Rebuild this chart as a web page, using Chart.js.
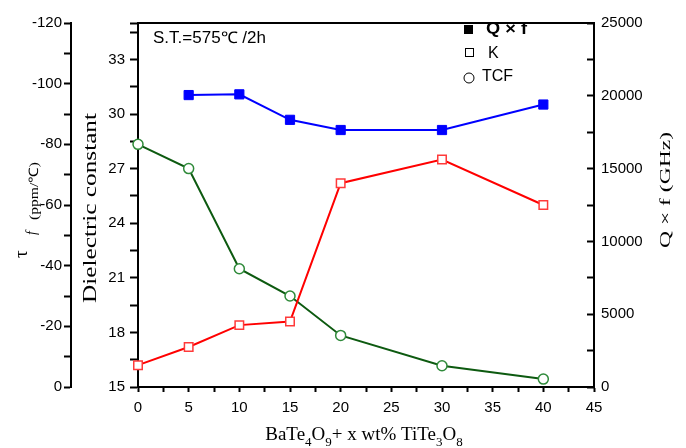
<!DOCTYPE html>
<html>
<head>
<meta charset="utf-8">
<script src="https://cdn.jsdelivr.net/npm/chart.js@4"></script>
<style>
  html, body { margin: 0; padding: 0; background: #fff; }
  canvas { display: block; }
</style>
</head>
<body>
<canvas id="chart" width="686" height="448"></canvas>
<script>
// x = wt% TiTe3O8 added to BaTe4O9
const xContent = [0, 5, 10, 15, 20, 30, 40];
const kValues = [16.2, 17.2, 18.4, 18.6, 26.2, 27.5, 25.0];
const tcfValues = [-80, -72, -39, -30, -17, -7, -2.6];
const qfContent = [5, 10, 15, 20, 30, 40];
const qfValues = [20050, 20100, 18350, 17650, 17650, 19400];

const sans = "'Liberation Sans', Arial, sans-serif";
const serif = "'Liberation Serif', 'Times New Roman', serif";

const toPoints = (xs, ys) => xs.map((x, i) => ({ x: x, y: ys[i] }));

// draw text squeezed/stretched to a given length (rotated or not)
function stretchText(ctx, text, x, y, font, len, rotated, align) {
  ctx.save();
  ctx.translate(x, y);
  if (rotated) ctx.rotate(-Math.PI / 2);
  ctx.font = font;
  const w = ctx.measureText(text).width;
  ctx.scale(len / w, 1);
  ctx.textAlign = align || "left";
  ctx.textBaseline = "alphabetic";
  ctx.fillText(text, 0, 0);
  ctx.restore();
}

const decorations = {
  id: "decorations",
  afterDraw(chart) {
    const ctx = chart.ctx;
    const a = chart.chartArea;
    ctx.save();
    ctx.fillStyle = "#000";
    ctx.strokeStyle = "#000";

    // top frame line
    ctx.lineWidth = 2;
    ctx.beginPath();
    ctx.moveTo(a.left - 1, a.top);
    ctx.lineTo(a.right + 1, a.top);
    ctx.stroke();

    // axis titles
    stretchText(ctx, "Dielectric constant", 96, 208, "18px " + serif, 190, true, "center");
    stretchText(ctx, "Q × f (GHz)", 670, 190, "15px " + serif, 116, true, "center");

    // tau f (ppm/℃)
    ctx.save();
    ctx.translate(27, 258);
    ctx.rotate(-Math.PI / 2);
    ctx.textBaseline = "alphabetic";
    ctx.font = "19px " + serif;
    ctx.fillText("τ", 0, 0);
    ctx.font = "italic 14px " + serif;
    ctx.fillText("f", 23, 9);
    ctx.restore();
    ctx.save();
    ctx.translate(38, 220);
    ctx.rotate(-Math.PI / 2);
    ctx.font = "13px " + serif;
    const pw = ctx.measureText("(ppm/℃)").width;
    ctx.scale(58 / pw, 1);
    ctx.fillText("(ppm/℃)", 0, 0);
    ctx.restore();

    // x title with subscripts
    const parts = [["BaTe", 0], ["4", 1], ["O", 0], ["9", 1], ["+ x wt% TiTe", 0], ["3", 1], ["O", 0], ["8", 1]];
    const mainFont = "19px " + serif, subFont = "13px " + serif;
    let total = 0;
    parts.forEach(p => { ctx.font = p[1] ? subFont : mainFont; total += ctx.measureText(p[0]).width; });
    let xx = 364 - total / 2;
    ctx.textAlign = "left";
    ctx.textBaseline = "alphabetic";
    parts.forEach(p => {
      ctx.font = p[1] ? subFont : mainFont;
      ctx.fillText(p[0], xx, p[1] ? 446 : 440);
      xx += ctx.measureText(p[0]).width;
    });

    // annotation
    stretchText(ctx, "S.T.=575℃ /2h", 153, 43, "16px " + sans, 113, false);

    // legend
    ctx.fillRect(464, 25, 9, 9);
    stretchText(ctx, "Q × f", 486, 34, "bold 16px " + sans, 41, false);
    ctx.lineWidth = 1;
    ctx.strokeRect(465.5, 48.5, 8, 8);
    ctx.font = "16px " + sans;
    ctx.fillText("K", 488, 58);
    ctx.beginPath();
    ctx.arc(469, 78, 5, 0, Math.PI * 2);
    ctx.stroke();
    ctx.fillText("TCF", 482, 81);

    ctx.restore();
  }
};

const tickFont = { family: sans, size: 15 };
const axisGrid = (len) => ({ drawOnChartArea: false, tickLength: len, tickWidth: 2, tickColor: "#000" });
const axisBorder = { color: "#000", width: 2 };

new Chart(document.getElementById("chart"), {
  type: "line",
  data: {
    datasets: [
      {
        label: "K",
        data: toPoints(xContent, kValues),
        yAxisID: "yK",
        borderColor: "#ff0000",
        borderWidth: 2,
        pointStyle: "rect",
        pointRadius: 6,
        pointBackgroundColor: "#ffffff",
        pointBorderColor: "#ff3a3a",
        pointBorderWidth: 1.5,
        clip: false
      },
      {
        label: "TCF",
        data: toPoints(xContent, tcfValues),
        yAxisID: "yT",
        borderColor: "#0d5a10",
        borderWidth: 2,
        pointStyle: "circle",
        pointRadius: 5,
        pointBackgroundColor: "#ffffff",
        pointBorderColor: "#2f8a3a",
        pointBorderWidth: 1.5,
        clip: false
      },
      {
        label: "Q × f",
        data: toPoints(qfContent, qfValues),
        yAxisID: "yQ",
        borderColor: "#0000ff",
        borderWidth: 2,
        pointStyle: "rect",
        pointRadius: 6.5,
        pointBackgroundColor: "#0000ff",
        pointBorderColor: "#0000ff",
        pointBorderWidth: 1,
        clip: false
      }
    ]
  },
  options: {
    responsive: false,
    animation: false,
    devicePixelRatio: 1,
    layout: { padding: { top: 15, left: 0, right: 0, bottom: 0 } },
    plugins: { legend: { display: false }, tooltip: { enabled: false } },
    elements: { line: { tension: 0 } },
    scales: {
      x: {
        type: "linear",
        position: "bottom",
        min: 0, max: 45, bounds: "data",
        ticks: {
          stepSize: 2.5, autoSkip: false, maxRotation: 0, padding: 7,
          color: "#000", font: tickFont,
          callback: v => (v % 5 === 0 ? String(v) : "")
        },
        grid: axisGrid(5),
        border: axisBorder,
        afterFit: s => { s.height = 61; }
      },
      yT: {
        type: "linear",
        position: "left",
        weight: 1,
        reverse: true,
        min: -120, max: 0, bounds: "data",
        ticks: {
          stepSize: 10, autoSkip: false, padding: 2,
          color: "#000", font: tickFont,
          callback: v => (v % 20 === 0 ? String(v) : "")
        },
        grid: axisGrid(7),
        border: axisBorder,
        afterFit: s => { s.width = 71; }
      },
      yK: {
        type: "linear",
        position: "left",
        weight: 0,
        min: 15, max: 35, bounds: "data",
        ticks: {
          stepSize: 1.5, includeBounds: false, autoSkip: false, padding: 5,
          color: "#000", font: tickFont,
          callback: v => (Math.abs(v % 3) < 1e-6 ? String(v) : "")
        },
        grid: axisGrid(8),
        border: axisBorder,
        afterFit: s => { s.width = 67; }
      },
      yQ: {
        type: "linear",
        position: "right",
        min: 0, max: 25000, bounds: "data",
        ticks: {
          stepSize: 2500, autoSkip: false, padding: 14,
          color: "#000", font: tickFont,
          callback: v => (v % 5000 === 0 ? String(v) : "")
        },
        grid: axisGrid(-7),
        border: axisBorder,
        afterFit: s => { s.width = 92; }
      }
    }
  },
  plugins: [decorations]
});
</script>
</body>
</html>
